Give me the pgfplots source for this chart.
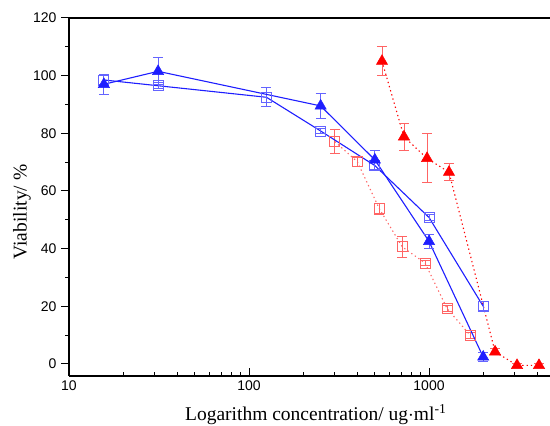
\documentclass[border=0pt]{standalone}
\usepackage{fontspec}
\setmainfont{Liberation Serif}
\newfontfamily\ticksans{Liberation Sans}
\usepackage{pgfplots}
\pgfplotsset{compat=1.18}

\definecolor{cblue}{RGB}{30,30,255}
\definecolor{cbluelt}{RGB}{100,100,255}
\definecolor{cred}{RGB}{255,0,0}
\definecolor{credlt}{RGB}{255,100,100}

\pgfplotstableread{
x      y     e
15.625 97.0  3.5
31.25  101.5 4.7
250    89.5  4.2
500    70.8  3.3
1000   42.5  2.5
2000   2.4   1.5
}\bluetri

\pgfplotstableread{
x      y     e
15.625 98.5  1.5
31.25  96.5  1.0
125    92.5  3.3
250    80.8  1.0
500    68.8  1.2
1000   50.8  1.0
2000   20.0  1.5
}\bluesq

\pgfplotstableread{
x      y     e
300    77.1  4.2
400    70.1  1.5
530    53.8  2.0
710    40.6  3.7
950    35.0  1.0
1260   19.2  1.0
1690   10.0  1.0
}\redsq

\pgfplotstableread{
x      y     e
548    105.0 5.0
726    78.8  4.7
975    71.3  8.5
1291   66.5  3.0
2328   4.2   1.0
3083   -0.5  0.6
4083   -0.5  0.6
}\redtri

\begin{document}
\begin{tikzpicture}
\begin{axis}[
  scale only axis,
  width=481pt, height=358pt,
  xmode=log, log basis x=10,
  xmin=10, xmax=4700,
  ymin=-4.2, ymax=120,
  axis x line*=box,
  axis y line*=left,
  axis line style={line width=1.2pt, black},
  xtick={10,100,1000},
  minor xtick={20,30,40,50,60,70,80,90,200,300,400,500,600,700,800,900,2000,3000,4000},
  log ticks with fixed point,
  /pgf/number format/1000 sep={},
  xtick pos=bottom,
  ytick={0,20,40,60,80,100,120},
  minor y tick num=1,
  xtick align=inside,
  ytick align=outside,
  major tick length=8pt,
  minor tick length=4pt,
  every tick/.style={black, line width=1pt},
  tick label style={font=\ticksans\fontsize{14}{14}\selectfont},
  /pgf/number format/assume math mode=true,
  xticklabel style={yshift=-1pt},
  yticklabel style={xshift=-1pt},
  xlabel={Logarithm concentration/ ug$\cdot$ml\textsuperscript{-1}},
  ylabel={Viability/ \%},
  every axis x label/.style={at={(rel axis cs:0.513,0)}, anchor=base, yshift=-45pt,
    font=\fontsize{19.5}{20}\selectfont},
  every axis y label/.style={at={(rel axis cs:0,0.458)}, anchor=center, rotate=90, yshift=47pt,
    font=\fontsize{19.5}{20}\selectfont},
  clip=false,
]
% red dotted series
\addplot[color=credlt, line width=1.1pt, dash pattern=on 1.3pt off 3pt,
  mark=square, mark size=5pt, mark options={solid, credlt, line width=0.9pt},
  error bars/.cd, y dir=both, y explicit,
  error bar style={credlt, line width=0.9pt, solid},
  error mark options={rotate=90, mark size=5pt, credlt, line width=0.9pt, solid}]
  table[x=x, y=y, y error=e] {\redsq};
\addplot[color=cred, line width=1.1pt, dash pattern=on 1.3pt off 3pt,
  mark=triangle*, mark size=6.5pt, mark options={solid, cred, fill=cred, line width=0.5pt},
  error bars/.cd, y dir=both, y explicit,
  error bar style={credlt, line width=0.9pt, solid},
  error mark options={rotate=90, mark size=5pt, credlt, line width=0.9pt, solid}]
  table[x=x, y=y, y error=e] {\redtri};
% blue solid series
\addplot[color=cblue, line width=1.1pt,
  mark=square, mark size=5pt, mark options={cbluelt, line width=0.9pt},
  error bars/.cd, y dir=both, y explicit,
  error bar style={cbluelt, line width=0.9pt},
  error mark options={rotate=90, mark size=5pt, cbluelt, line width=0.9pt}]
  table[x=x, y=y, y error=e] {\bluesq};
\addplot[color=cblue, line width=1.1pt,
  mark=triangle*, mark size=6.5pt, mark options={cblue, fill=cblue, line width=0.5pt},
  error bars/.cd, y dir=both, y explicit,
  error bar style={cbluelt, line width=0.9pt},
  error mark options={rotate=90, mark size=5pt, cbluelt, line width=0.9pt}]
  table[x=x, y=y, y error=e] {\bluetri};
\coordinate (sw) at (rel axis cs:0,0);
\coordinate (ne) at (rel axis cs:1,1);
\end{axis}
\pgfresetboundingbox
\path ([xshift=-69pt,yshift=-50pt]sw) rectangle ([yshift=18pt]ne);
\end{tikzpicture}
\end{document}
